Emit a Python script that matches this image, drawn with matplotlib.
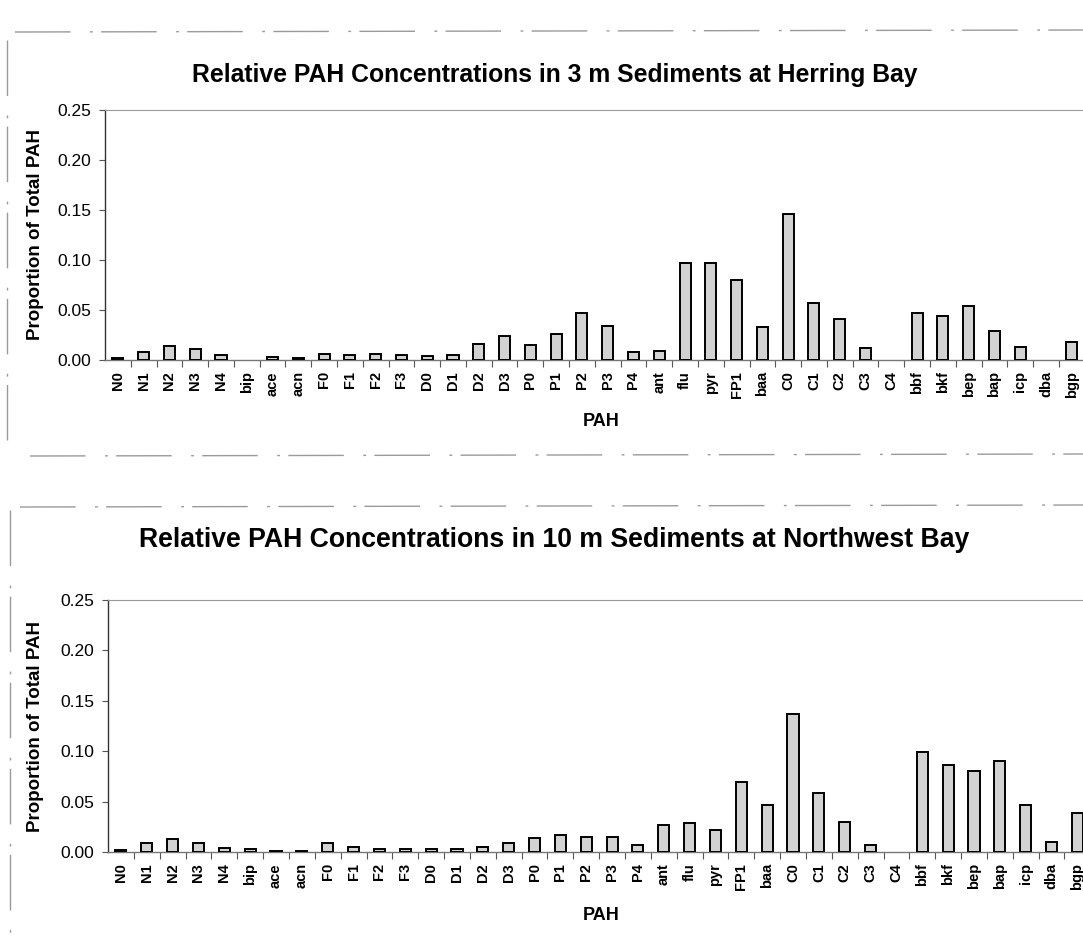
from __future__ import annotations

import matplotlib

matplotlib.use("Agg")
import matplotlib.pyplot as plt
from matplotlib.lines import Line2D

PAH_LABELS = [
    "N0", "N1", "N2", "N3", "N4", "bip", "ace", "acn", "F0", "F1",
    "F2", "F3", "D0", "D1", "D2", "D3", "P0", "P1", "P2", "P3",
    "P4", "ant", "flu", "pyr", "FP1", "baa", "C0", "C1", "C2", "C3",
    "C4", "bbf", "bkf", "bep", "bap", "icp", "dba", "bgp",
]

# proportion of total PAH, 3 m sediments, Herring Bay
HERRING_3M = [
    0.002, 0.008, 0.014, 0.011, 0.005, 0.000, 0.003, 0.002, 0.006, 0.005,
    0.006, 0.005, 0.004, 0.005, 0.016, 0.024, 0.015, 0.026, 0.047, 0.034,
    0.008, 0.009, 0.097, 0.097, 0.080, 0.033, 0.146, 0.057, 0.041, 0.012,
    0.000, 0.047, 0.044, 0.054, 0.029, 0.013, 0.000, 0.018,
]

# proportion of total PAH, 10 m sediments, Northwest Bay
NORTHWEST_10M = [
    0.002, 0.009, 0.013, 0.009, 0.004, 0.003, 0.001, 0.001, 0.009, 0.005,
    0.003, 0.003, 0.003, 0.003, 0.005, 0.009, 0.014, 0.017, 0.015, 0.015,
    0.007, 0.027, 0.029, 0.022, 0.069, 0.047, 0.137, 0.059, 0.030, 0.007,
    0.000, 0.099, 0.086, 0.080, 0.090, 0.047, 0.010, 0.039,
]

TITLES = [
    "Relative PAH Concentrations in 3 m Sediments at Herring Bay",
    "Relative PAH Concentrations in 10 m Sediments at Northwest Bay",
]
Y_TICKS = [0.0, 0.05, 0.10, 0.15, 0.20, 0.25]

FONT = ["Liberation Sans", "DejaVu Sans"]
W, H = 1083, 939


def _px_box(left, right, top, bottom):
    return [left / W, 1 - bottom / H, (right - left) / W, (bottom - top) / H]


def _draw_panel(fig, box, values, title, title_y, title_size, xlabel_y):
    ax = fig.add_axes(box)
    x = list(range(len(PAH_LABELS)))
    # empty categories get no outline at all
    widths = [1.4 if v > 0 else 0.0 for v in values]
    ax.bar(x, values, width=0.43, color="#d2d2d2", edgecolor="black",
           linewidth=widths, zorder=3)

    ax.set_xlim(-0.5, len(PAH_LABELS) - 0.5)
    ax.set_ylim(0, 0.25)
    ax.set_yticks(Y_TICKS)
    ax.set_yticklabels([f"{v:.2f}" for v in Y_TICKS], fontsize=12.5,
                       family=FONT)
    ax.set_xticks(x)
    ax.set_xticklabels(PAH_LABELS, rotation=90, fontsize=10.5,
                       fontweight="bold", family=FONT, va="top")
    ax.set_xticks([i + 0.5 for i in x[:-1]], minor=True)
    ax.tick_params(axis="x", which="major", length=0, pad=8)
    ax.tick_params(axis="x", which="minor", direction="out", length=5,
                   width=0.8, color="#555555")
    ax.tick_params(axis="y", direction="out", length=4, width=0.8,
                   color="#555555", pad=6)

    ax.spines["left"].set_color("#333333")
    ax.spines["left"].set_linewidth(1.0)
    ax.spines["bottom"].set_color("#777777")
    ax.spines["bottom"].set_linewidth(1.0)
    ax.spines["top"].set_color("#999999")
    ax.spines["top"].set_linestyle((0, (1, 1)))
    ax.spines["top"].set_linewidth(0.8)
    ax.spines["right"].set_visible(False)

    ax.set_ylabel("Proportion of Total PAH", fontsize=13.5, fontweight="bold",
                  family=FONT)
    ax.yaxis.set_label_coords(-(box[0] * W - 44) / (box[2] * W), 0.5)

    fig.text(0.512, 1 - title_y / H, title, ha="center", va="center",
             fontsize=title_size, fontweight="bold", family=FONT)
    fig.text(601 / W, 1 - xlabel_y / H, "PAH", ha="center", va="center",
             fontsize=13, fontweight="bold", family=FONT)
    return ax


def _frame_line(fig, xs, ys):
    fig.add_artist(Line2D([v / W for v in xs], [1 - v / H for v in ys],
                          color="#9a9a9a", linewidth=1.0,
                          linestyle=(0, (40, 14, 2, 6)),
                          transform=fig.transFigure))


def main() -> None:
    fig = plt.figure(figsize=(W / 100, H / 100), dpi=100)
    fig.patch.set_facecolor("white")

    _draw_panel(fig, _px_box(105, 105 + 38 * 25.78, 110, 360), HERRING_3M,
                TITLES[0], 75, 17.8, 422)
    _draw_panel(fig, _px_box(108, 108 + 38 * 25.85, 600, 852), NORTHWEST_10M,
                TITLES[1], 540, 19.2, 915)

    # chart frame borders
    _frame_line(fig, [15, 1083], [32, 30])
    _frame_line(fig, [30, 1083], [456, 454])
    _frame_line(fig, [20, 1083], [507, 505])
    _frame_line(fig, [7, 7], [40, 440])
    _frame_line(fig, [10, 10], [510, 939])

    fig.savefig("out.png", dpi=100)
    plt.close(fig)


if __name__ == "__main__":
    main()
